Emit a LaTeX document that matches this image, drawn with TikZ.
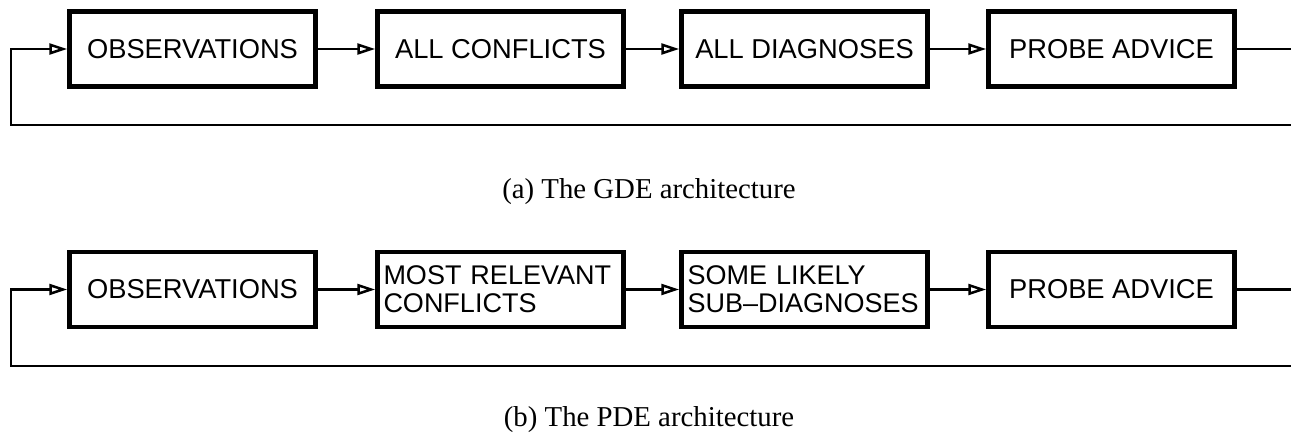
\documentclass[tikz,border=0pt]{standalone}
\usepackage{fontspec}
\setmainfont{Liberation Serif}
\newfontfamily\blocfont{Liberation Sans}
\usetikzlibrary{positioning,arrows.meta}

\begin{document}
\begin{tikzpicture}[x=1pt,y=-1pt,
    bloc/.style={rectangle,draw,line width=4.5pt,minimum width=246pt,minimum height=75pt,inner sep=8pt,font=\blocfont\fontsize{27.3}{28}\selectfont},
    bloclong/.style={bloc,text width=234pt,inner xsep=6pt,align=left,font=\blocfont\fontsize{27}{28}\selectfont},
    fleche/.style={line width=2.5pt,-{Triangle[open,length=18pt,width=11pt]}},
    retour/.style={line width=2.5pt},
    legende/.style={font=\fontsize{28.8}{32}\selectfont,anchor=base}]

\useasboundingbox (0,0) rectangle (1291,435);

% (a) GDE
\node[bloc] (g1) at (192.5,49) {OBSERVATIONS};
\node[bloc] (g2) at (500.5,49) {ALL CONFLICTS};
\node[bloc] (g3) at (804.5,49) {ALL DIAGNOSES};
\node[bloc] (g4) at (1111.5,49) {PROBE ADVICE};

\draw[fleche] (g1) -- (g2);
\draw[fleche] (g2) -- (g3);
\draw[fleche] (g3) -- (g4);

\coordinate (gout) at (1291,49);
\coordinate (gret) at (1291,125);
\coordinate (gcoin) at (11,125);
\draw[retour] (g4) -- (gout);
\draw[fleche] (gret) -- (gcoin) |- (g1);

\node[legende] (ga) at (649,199) {(a) The GDE architecture};

% (b) PDE
\node[bloc] (p1) at (192.5,289.5) {OBSERVATIONS};
\node[bloclong] (p2) at (500.5,289.5) {MOST RELEVANT\\CONFLICTS};
\node[bloclong] (p3) at (804.5,289.5) {SOME LIKELY\\SUB–DIAGNOSES};
\node[bloc] (p4) at (1111.5,289.5) {PROBE ADVICE};

\draw[fleche] (p1) -- (p2);
\draw[fleche] (p2) -- (p3);
\draw[fleche] (p3) -- (p4);

\coordinate (pout) at (1291,289.5);
\coordinate (pret) at (1291,366);
\coordinate (pcoin) at (11,366);
\draw[retour] (p4) -- (pout);
\draw[fleche] (pret) -- (pcoin) |- (p1);

\node[legende] (pb) at (649,427) {(b) The PDE architecture};

\end{tikzpicture}
\end{document}
